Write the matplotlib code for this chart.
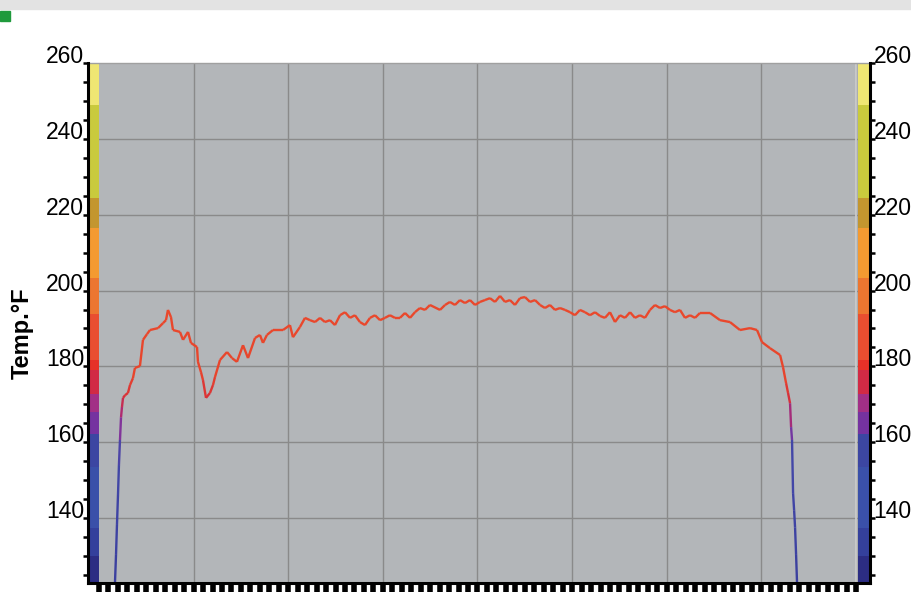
import numpy as np
import matplotlib
matplotlib.use('Agg')
import matplotlib.pyplot as plt
from matplotlib.collections import LineCollection
from matplotlib.colors import LinearSegmentedColormap, Normalize

# temperature trace (time in grid units 0..80, temp in degF)
times = [1.69, 1.80, 1.90, 2.01, 2.11, 2.22, 2.33, 2.43, 2.54, 2.75, 3.06, 3.28, 3.59, 3.80,
         4.33, 4.65, 5.07, 5.39, 6.24, 6.76, 7.08, 7.29, 7.61, 7.82, 8.56, 8.88, 9.41, 9.72,
         10.36, 10.46, 10.78, 10.99, 11.31, 11.73, 12.05, 12.26, 12.79, 13.53, 14.06, 14.58,
         15.22, 15.75, 16.49, 17.01, 17.33, 17.75, 18.39, 19.45, 20.18, 20.50, 21.24,
         21.77, 22.30, 22.83, 23.36, 23.88, 24.41, 24.94, 25.47, 26.00, 26.53, 27.05, 27.58,
         28.11, 28.64, 29.17, 29.70, 30.22, 30.75, 31.28, 31.81, 32.34, 32.87, 33.39, 33.92,
         34.45, 34.98, 36.04, 36.57, 37.09, 37.62, 38.15, 38.68, 39.21, 39.74, 40.26, 40.79,
         41.32, 41.85, 42.38, 42.91, 43.43, 43.96, 44.49, 45.02, 45.55, 46.08, 46.61, 47.13,
         47.66, 48.19, 48.72, 49.25, 49.78, 50.30, 50.83, 51.36, 51.89, 52.42, 52.95, 53.47,
         54.00, 54.53, 55.06, 55.59, 56.12, 56.64, 57.17, 57.70, 58.23, 58.76, 59.29, 59.81,
         60.34, 60.87, 61.40, 61.93, 62.46, 62.99,
         63.51, 64.57, 65.63, 66.68, 67.74, 68.80, 69.54, 70.07, 70.92, 71.98, 72.29, 72.61,
         72.82, 73.03, 73.14, 73.24, 73.35, 73.46, 73.56, 73.67, 73.77]
temps = [122.9, 130.3, 138.2, 146.1, 154.0, 160.6, 166.6, 169.3, 171.7, 172.4, 173.0, 175.1,
         176.9, 179.6, 180.1, 187.0, 188.5, 189.6, 190.1, 191.4, 192.2, 194.9, 193.0, 189.6,
         189.1, 187.0, 189.1, 186.2, 185.1, 181.2, 178.5, 176.4, 171.7, 173.0, 175.1, 177.2,
         181.7, 183.8, 182.2, 181.2, 185.6, 182.2, 187.5, 188.3, 186.2, 188.3, 189.6, 189.6,
         190.9, 187.7, 190.4,
         192.8, 192.2, 191.7, 192.8, 191.7, 192.2, 190.9, 193.5, 194.3, 192.8, 193.5, 191.7,
         190.9, 192.8, 193.5, 192.2, 192.8, 193.5, 192.8, 192.8, 194.1, 192.8, 194.3, 195.4,
         194.9, 196.2, 194.9, 196.2, 197.0, 196.2, 197.5, 196.7, 197.5, 196.2, 197.0, 197.5,
         198.0, 197.0, 198.6, 197.0, 197.5, 196.2, 198.0, 198.3, 197.0, 197.5, 196.2, 195.4,
         196.2, 194.9, 195.4, 194.9, 194.3, 193.5, 194.9, 194.3, 193.5, 194.3, 193.3, 192.8,
         194.3, 191.7, 193.5, 192.8, 194.3, 192.8, 193.5, 192.8, 194.9, 196.2, 195.4, 195.9,
         194.9, 194.3, 194.9, 192.8, 193.5, 192.8,
         194.1, 194.1, 192.2, 191.7, 189.6, 190.1, 189.6, 186.4, 184.8, 183.0, 179.8, 175.6,
         173.0, 170.3, 164.0, 160.6, 146.6, 142.1, 137.6, 130.3, 122.9]

# colour scale strip bands (degF)
band_low = [249, 224.3, 216.4, 203.4, 193.7, 181.6, 179, 172.6, 168, 162.3, 153.5, 137.5, 130, 122]
band_high = [260, 249, 224.3, 216.4, 203.4, 193.7, 181.6, 179, 172.6, 168, 162.3, 153.5, 137.5, 130]
band_colors = ['#efe673', '#c9ca3d', '#c3962f', '#f49a31', '#ec7630', '#e94e30', '#e63128',
               '#d12a45', '#a22f86', '#7532a0', '#3c46a2', '#3a50a9', '#34409c', '#2c2d83']

y_ticks = [140, 160, 180, 200, 220, 240, 260]


def plot_trace():
    plt.rcParams['font.family'] = ['Liberation Sans', 'DejaVu Sans']
    fig = plt.figure(figsize=(9.12, 5.92), dpi=100)

    # window header bits
    fig.patches.append(plt.Rectangle((0, 1 - 9 / 592), 1, 9 / 592, transform=fig.transFigure,
                                     color='#e3e3e3', zorder=0))
    fig.patches.append(plt.Rectangle((0, 1 - 21 / 592), 10 / 912, 10 / 592, transform=fig.transFigure,
                                     color='#1f9a3c', zorder=1))

    ax = fig.add_axes([88 / 912, 1 - 583 / 592, 782 / 912, 520 / 592])
    ax.set_facecolor('#b3b6b9')
    ax.set_xlim(-1.16, 81.48)
    ax.set_ylim(122.9, 260)

    # grid
    for x in range(10, 90, 10):
        ax.axvline(x, color='#8a8a8a', lw=1, zorder=0.5)
    for y in y_ticks[:-1]:
        ax.axhline(y, color='#8a8a8a', lw=1, zorder=0.5)

    # colour strips on both sides
    heights = [h - l for l, h in zip(band_low, band_high)]
    ax.bar(-1.16, heights, width=1.16, bottom=band_low, align='edge', color=band_colors,
           linewidth=0, zorder=1)
    ax.bar(80.2, heights, width=1.28, bottom=band_low, align='edge', color=band_colors,
           linewidth=0, zorder=1)
    ax.axvline(80.05, color='#cfcfcf', lw=1.2, zorder=1)

    # trace coloured by temperature
    cmap = LinearSegmentedColormap.from_list('trace', [
        (0.0, '#3a3f9e'), ((156 - 122) / 138, '#4347a8'), ((163 - 122) / 138, '#7a35a0'),
        ((168 - 122) / 138, '#b02a70'), ((172 - 122) / 138, '#d83038'),
        ((178 - 122) / 138, '#e8452c'), (1.0, '#ec532a')])
    pts = np.column_stack([times, temps])
    segs = np.stack([pts[:-1], pts[1:]], axis=1)
    mid = (np.array(temps[:-1]) + np.array(temps[1:])) / 2
    lc = LineCollection(segs, cmap=cmap, norm=Normalize(122, 260), linewidth=1.7, zorder=3)
    lc.set_array(mid)
    ax.add_collection(lc)

    # spines
    for side in ['left', 'right', 'bottom']:
        ax.spines[side].set_color('black')
        ax.spines[side].set_linewidth(2.2)
        ax.spines[side].set_zorder(4)
    ax.spines['top'].set_color('#a0a0a0')
    ax.spines['top'].set_linewidth(1)

    # y ticks both sides
    ax.set_yticks(y_ticks)
    ax.set_yticks(np.arange(125, 260, 5), minor=True)
    ax.tick_params(axis='y', which='both', left=True, right=True, labelleft=True, labelright=True,
                   direction='out', length=3.5, width=1.8, labelsize=16.5, pad=-0.8)
    for t in ax.yaxis.get_major_ticks():
        t.label1.set_va('baseline')
        t.label2.set_va('baseline')

    # ruler-like ticks along the bottom
    ax.set_xticks(np.arange(0, 90, 10))
    ax.set_xticks(np.arange(0, 81, 1), minor=True)
    ax.tick_params(axis='x', which='both', direction='out', length=7, width=4,
                   labelbottom=False, color='black')

    fig.text(22 / 912, 1 - 333 / 592, 'Temp.°F', rotation=90, ha='center', va='center',
             fontsize=17, fontweight='bold')

    fig.savefig('out.png', dpi=100, facecolor='white')
    plt.close(fig)


if __name__ == '__main__':
    plot_trace()
